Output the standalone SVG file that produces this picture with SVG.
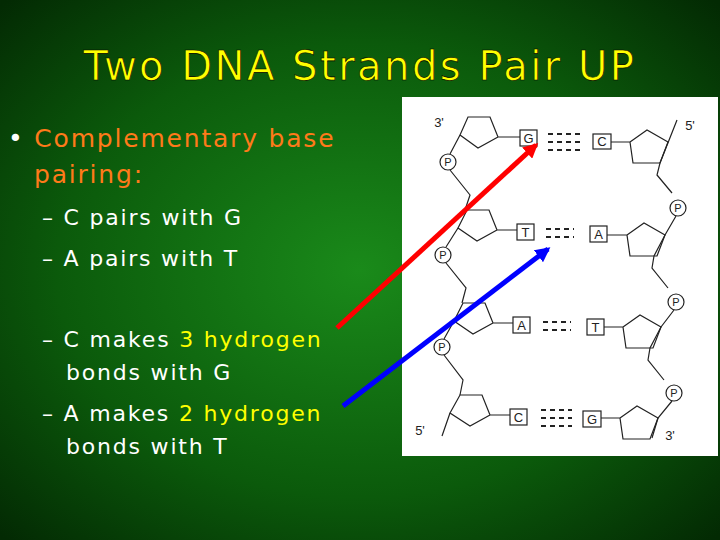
<svg xmlns="http://www.w3.org/2000/svg" width="720" height="540" viewBox="0 0 720 540">
<defs>
<radialGradient id="bg" cx="0.5" cy="0.5" r="0.7">
<stop offset="0" stop-color="#1a8a1a"/><stop offset="0.6" stop-color="#0b5a0b"/><stop offset="1" stop-color="#032a03"/>
</radialGradient>
<marker id="ar" viewBox="0 0 10 10" refX="8" refY="5" markerWidth="3" markerHeight="3" orient="auto"><path d="M0,0L10,5L0,10z" fill="#ff0000"/></marker>
<marker id="ab" viewBox="0 0 10 10" refX="8" refY="5" markerWidth="3" markerHeight="3" orient="auto"><path d="M0,0L10,5L0,10z" fill="#0000ff"/></marker>
<style>
.t{font-family:"DejaVu Sans",sans-serif}
.w{fill:#fff}.y{fill:#ffff00}
.l{fill:none;stroke:#222;stroke-width:1.2}
.b{fill:#fff;stroke:#222;stroke-width:1.2}
.d{stroke:#222;stroke-width:2;stroke-dasharray:5 4}
.s{font-family:"Liberation Sans",sans-serif;font-size:13px;fill:#222}
</style>
</defs>
<rect width="720" height="540" fill="url(#bg)"/>
<text class="t y" x="360" y="80" font-size="40" letter-spacing="2.5" text-anchor="middle" stroke="#000" stroke-width="0.6">Two DNA Strands Pair UP</text>
<g class="t" font-size="25" letter-spacing="1.8">
<text class="w" x="8" y="147">• <tspan fill="#ff7a1a">Complementary base</tspan></text>
<text x="34" y="183" fill="#ff7a1a">pairing:</text>
</g>
<g class="t w" font-size="22" letter-spacing="1.8">
<text x="42" y="225">– C pairs with G</text>
<text x="42" y="266">– A pairs with T</text>
<text x="42" y="347">– C makes <tspan class="y">3 hydrogen</tspan></text>
<text x="66" y="380">bonds with G</text>
<text x="42" y="421">– A makes <tspan class="y">2 hydrogen</tspan></text>
<text x="66" y="454">bonds with T</text>
</g>
<g id="dna">
<rect x="402" y="97" width="316" height="359" fill="#fff"/>
<g id="left-strand">
<path class="l" d="M498,137l-8,-20h-22l-8,18l18,13z M498,137h22"/>
<path class="l" d="M497,230l-8,-20h-22l-9,18l19,13z M497,230h20"/>
<path class="l" d="M493,323l-8,-20h-22l-9,18l19,13z M493,323h20"/>
<path class="l" d="M490,415l-8,-20h-22l-10,18l20,13z M490,415h20"/>
<path class="l" d="M460,135L450,154 M450,170L470,195L465,210 M458,228L446,247 M446,263L466,288L462,303 M454,321L444,339 M444,355L463,380L460,395 M450,413L442,436"/>
<circle class="b" cx="448" cy="162" r="8"/><circle class="b" cx="443" cy="255" r="8"/><circle class="b" cx="442" cy="347" r="8"/>
</g>
<g id="right-strand">
<path class="l" d="M630,142l17,-12l21,12l-8,21h-27z M611,142h19"/>
<path class="l" d="M627,235l17,-12l21,12l-8,21h-27z M607,235h20"/>
<path class="l" d="M623,327l17,-12l21,12l-8,21h-27z M604,327h19"/>
<path class="l" d="M620,418l17,-12l21,12l-8,21h-27z M601,418h19"/>
<path class="l" d="M677,120L660,163L657,175L672,193 M676,216L665,235L654,256L652,268L668,288 M674,310L661,327L650,348L648,360L664,380 M672,401L658,418L652,438"/>
<circle class="b" cx="678" cy="208" r="8"/><circle class="b" cx="676" cy="302" r="8"/><circle class="b" cx="674" cy="393" r="8"/>
</g>
<g id="bases">
<rect class="b" x="520" y="130" width="17" height="16"/><rect class="b" x="593" y="134" width="18" height="15"/>
<rect class="b" x="517" y="224" width="17" height="16"/><rect class="b" x="590" y="226" width="17" height="16"/>
<rect class="b" x="513" y="317" width="17" height="16"/><rect class="b" x="587" y="319" width="17" height="16"/>
<rect class="b" x="510" y="409" width="17" height="16"/><rect class="b" x="583" y="411" width="18" height="16"/>
<path class="d" d="M548,134h32M548,142h32M548,150h32 M546,229h28M546,237h28 M543,322h28M543,330h28 M541,410h31M541,418h31M541,426h31"/>
<g class="s" text-anchor="middle">
<text x="528.5" y="143">G</text><text x="602" y="146">C</text>
<text x="525.5" y="237">T</text><text x="598.5" y="239">A</text>
<text x="521.5" y="330">A</text><text x="595.5" y="332">T</text>
<text x="518.5" y="422">C</text><text x="592" y="424">G</text>
<text x="448" y="166" font-size="11">P</text><text x="443" y="259" font-size="11">P</text><text x="442" y="351" font-size="11">P</text>
<text x="678" y="212" font-size="11">P</text><text x="676" y="306" font-size="11">P</text><text x="674" y="397" font-size="11">P</text>
<text x="439" y="127">3'</text><text x="690" y="130">5'</text><text x="420" y="435">5'</text><text x="670" y="440">3'</text>
</g>
</g>
</g>
<g id="connectors">
<line x1="337" y1="328" x2="536" y2="145" stroke="#ff0000" stroke-width="5" marker-end="url(#ar)"/>
<line x1="343" y1="406" x2="548" y2="249" stroke="#0000ff" stroke-width="5" marker-end="url(#ab)"/>
</g>
</svg>
